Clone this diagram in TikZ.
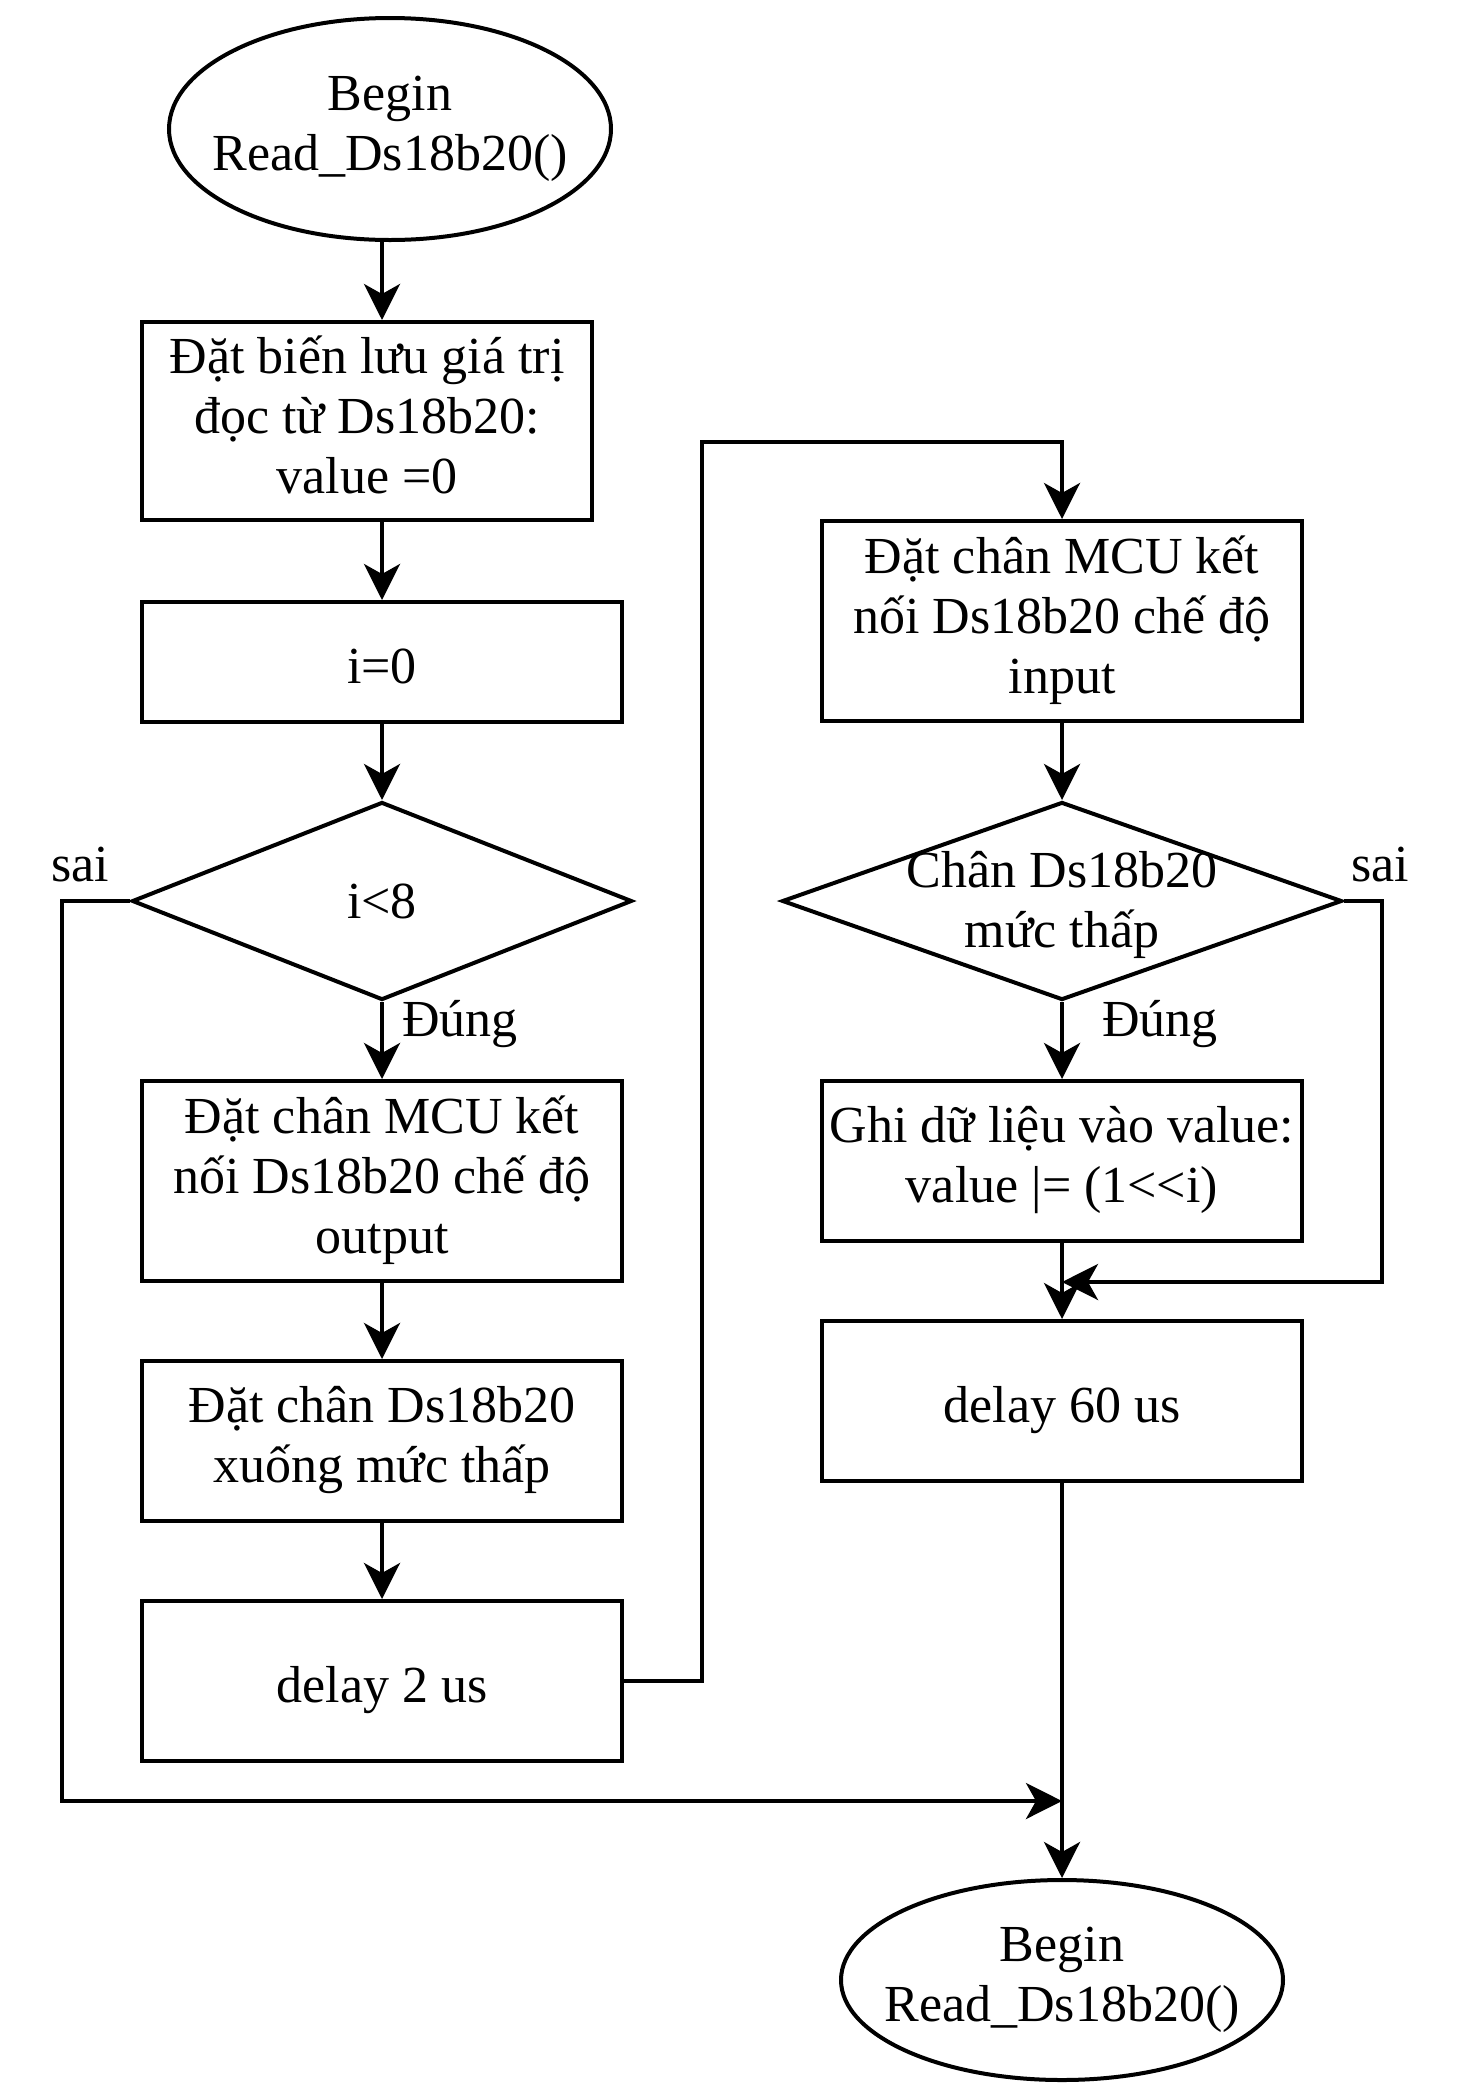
\documentclass[tikz,border=0pt]{standalone}
\usepackage{fontspec}
\setmainfont{Liberation Serif}
\usetikzlibrary{shapes.geometric}
\usetikzlibrary{arrows.meta}

\begin{document}
\begin{tikzpicture}[x=0.5pt,y=-0.5pt,line width=2pt,font=\fontsize{26}{30}\selectfont,
    lines/.style={align=center,inner sep=0pt,execute at begin node={\rule{0pt}{27.5pt}},execute at end node={\rule[-6.2pt]{0pt}{0pt}}},
    box/.style={draw,rectangle,minimum width=240pt,lines},
    term/.style={draw,ellipse,minimum width=221pt,inner sep=0pt},
    test/.style={draw,diamond,minimum height=99pt,inner sep=0pt},
    flow/.style={-{Stealth[length=18pt,width=18pt,inset=5pt]}}]
    \useasboundingbox (0,0) rectangle (1464,2084);
    \node[term,minimum height=111pt,label={[lines]center:Begin\\Read\_Ds18b20()}] (start) at (390,129) {};
    \node[box,minimum width=225pt,minimum height=99pt] (setval) at (367,421) {Đặt biến lưu giá trị\\đọc từ Ds18b20:\\value =0};
    \node[box,minimum height=60pt] (initi) at (382,662) {i=0};
    \node[test,minimum width=250pt] (chki) at (382,901) {i<8};
    \node[box,minimum height=100pt] (pinout) at (382,1181) {Đặt chân MCU kết\\nối Ds18b20 chế độ\\output};
    \node[box,minimum height=80pt] (pinlow) at (382,1441) {Đặt chân Ds18b20\\xuống mức thấp};
    \node[box,minimum height=80pt] (wait2) at (382,1681) {delay 2 us};
    \node[box,minimum height=100pt] (pinin) at (1062,621) {Đặt chân MCU kết\\nối Ds18b20 chế độ\\input};
    \node[test,minimum width=280pt,label={[lines,yshift=-2.5pt]center:Chân Ds18b20\\mức thấp}] (chkpin) at (1062,901) {};
    \node[box,minimum height=80pt] (store) at (1062,1161) {Ghi dữ liệu vào value:\\value |= (1<\kern0pt<i)};
    \node[box,minimum height=80pt] (wait60) at (1062,1401) {delay 60 us};
    \node[term,minimum height=100pt,label={[lines]center:Begin\\Read\_Ds18b20()}] (stop) at (1062,1980) {};
    \node (nol) at (80,865) {sai};
    \node (yesl) at (460,1024) {Đúng};
    \node (yesr) at (1160,1024) {Đúng};
    \node (nor) at (1380,865) {sai};
    \coordinate (up) at (702,442);
    \coordinate (lft) at (62,1801);
    \coordinate (rgt) at (1382,1282);
    \draw[flow] (start.south -| initi) -- (initi |- setval.north);
    \draw[flow] (initi |- setval.south) -- (initi.north);
    \draw[flow] (initi) -- (chki);
    \draw[flow] (chki) -- (pinout);
    \draw[flow] (pinout) -- (pinlow);
    \draw[flow] (pinlow) -- (wait2);
    \draw[flow] (wait2.east) -| (up) -| (pinin.north);
    \draw[flow] (pinin) -- (chkpin);
    \draw[flow] (chkpin) -- (store);
    \draw[flow] (store) -- (wait60);
    \draw[flow] (wait60) -- (stop);
    \draw[flow] (chki.west) -| (lft) -- (lft -| stop.north);
    \draw[flow] (chkpin.east) -| (rgt) -- (rgt -| wait60.north);
\end{tikzpicture}
\end{document}
